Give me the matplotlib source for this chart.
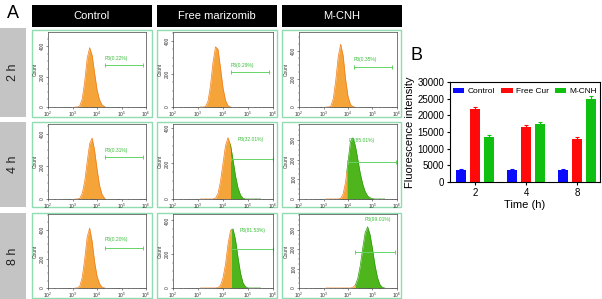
import matplotlib.pyplot as plt
import numpy as np
from matplotlib.patches import Rectangle
from matplotlib.ticker import FixedLocator, MultipleLocator, NullFormatter, LogLocator

plt.rcParams['font.family'] = ['Liberation Sans', 'DejaVu Sans']

W, H = 602, 299

# ---- panel B data ----
times = ['2', '4', '8']
group_names = ['Control', 'Free Cur', 'M-CNH']
control_mean = [3600, 3600, 3600]
control_err = [250, 250, 250]
freecur_mean = [21800, 16500, 13000]
freecur_err = [700, 600, 500]
mcnh_mean = [13500, 17500, 25000]
mcnh_err = [600, 600, 900]

# ---- panel A data (flow cytometry histograms, log10 intensity bins) ----
columns = ['Control', 'Free marizomib', 'M-CNH']
rows = ['2 h', '4 h', '8 h']
log_bins = [3.1, 3.2, 3.3, 3.4, 3.5, 3.6, 3.7, 3.8, 3.9, 4.0, 4.1, 4.2, 4.3,
            4.4, 4.5, 4.6, 4.7, 4.8, 4.9, 5.0, 5.1, 5.2, 5.3, 5.4, 5.5]
#                 3.1 3.2 3.3 3.4  3.5  3.6  3.7  3.8  3.9  4.0  4.1  4.2  4.3  4.4  4.5  4.6  4.7  4.8  4.9  5.0  5.1  5.2  5.3 5.4 5.5
ctrl_2h = [0, 0, 8, 55, 170, 320, 390, 340, 225, 115, 48, 15, 3, 0, 0, 0, 0, 0, 0, 0, 0, 0, 0, 0, 0]
fm_2h = [0, 0, 2, 35, 130, 270, 365, 350, 235, 115, 40, 8, 0, 0, 0, 0, 0, 0, 0, 0, 0, 0, 0, 0, 0]
mcnh_2h = [0, 0, 6, 60, 190, 360, 450, 370, 200, 75, 18, 3, 0, 0, 0, 0, 0, 0, 0, 0, 0, 0, 0, 0, 0]
ctrl_4h = [0, 0, 5, 35, 110, 230, 340, 375, 300, 185, 85, 30, 6, 0, 0, 0, 0, 0, 0, 0, 0, 0, 0, 0, 0]
fm_4h = [0, 0, 0, 0, 0, 0, 5, 30, 100, 200, 300, 345, 305, 220, 130, 62, 22, 5, 0, 0, 0, 0, 0, 0, 0]
mcnh_4h = [0, 0, 0, 0, 0, 0, 3, 25, 85, 190, 290, 310, 270, 200, 130, 76, 38, 16, 6, 2, 0, 0, 0, 0, 0]
ctrl_8h = [0, 0, 14, 75, 200, 350, 410, 320, 180, 82, 30, 7, 0, 0, 0, 0, 0, 0, 0, 0, 0, 0, 0, 0, 0]
fm_8h = [0, 0, 0, 0, 0, 0, 0, 3, 15, 60, 140, 260, 340, 350, 285, 180, 88, 30, 8, 0, 0, 0, 0, 0, 0]
mcnh_8h = [0, 0, 0, 0, 0, 0, 0, 0, 0, 0, 0, 3, 15, 50, 115, 205, 285, 315, 275, 200, 118, 55, 18, 4, 0]
hist_counts = [[ctrl_2h, fm_2h, mcnh_2h],
               [ctrl_4h, fm_4h, mcnh_4h],
               [ctrl_8h, fm_8h, mcnh_8h]]
gate_labels = [['P3(0.22%)', 'P3(0.29%)', 'P3(0.35%)'],
               ['P3(0.31%)', 'P3(32.01%)', 'P3(85.01%)'],
               ['P3(0.20%)', 'P3(81.53%)', 'P3(99.01%)']]

# ---- layout / styling per panel ----
panel_x = [(32, 152), (157, 277), (282, 401)]
axes_x = [(48, 146), (173, 273), (299, 397)]
panel_y = [(30, 117), (122, 207), (213, 298)]
axes_y = [(32, 107), (124, 199), (214, 288)]
ylims = [[493, 455, 538], [461, 422, 380], [507, 438, 381]]
# gate: start, end (log10), y ; label: x (log10), y
gates = [[(4.33, 5.88, 275), (4.3, 5.85, 210), (4.25, 5.8, 290)],
         [(4.33, 5.88, 258), (4.3, 6.0, 225), (3.95, 5.95, 185)],
         [(4.33, 5.86, 277), (4.33, 6.0, 228), (4.3, 5.9, 183)]]
label_pos = [[(4.33, 300), (4.3, 235), (4.25, 320)],
             [(4.33, 285), (4.6, 320), (4.02, 282)],
             [(4.33, 312), (4.65, 327), (4.66, 340)]]

ORANGE = '#f5a43a'
ORANGE_EDGE = '#f07c1a'
GREEN = '#4fb51c'
GREEN_EDGE = '#2e9c10'
GATE = '#66d466'
MINT = '#8edcb0'


def fr(x0, y0, x1, y1):
    return [x0 / W, 1 - y1 / H, (x1 - x0) / W, (y1 - y0) / H]


fig = plt.figure(figsize=(W / 100, H / 100), dpi=100)

fig.text(7 / W, 1 - 14 / H, 'A', fontsize=13, va='center', ha='left')
fig.text(411 / W, 1 - 55 / H, 'B', fontsize=13, va='center', ha='left')

# column headers
for j, name in enumerate(columns):
    x0, x1 = panel_x[j]
    if j == 2:
        x1 = 402
    fig.patches.append(Rectangle((x0 / W, 1 - 27 / H), (x1 - x0) / W, 22 / H,
                                 transform=fig.transFigure, facecolor='black',
                                 edgecolor='none', zorder=-2))
    fig.text((x0 + x1) / 2 / W, 1 - 16 / H, name, color='white', fontsize=8,
             ha='center', va='center')

# row labels
row_gray = [(28, 117), (122, 207), (213, 299)]
for i, name in enumerate(rows):
    y0, y1 = row_gray[i]
    fig.patches.append(Rectangle((0, 1 - y1 / H), 26 / W, (y1 - y0) / H,
                                 transform=fig.transFigure, facecolor='#c4c4c4',
                                 edgecolor='none', zorder=-2))
    fig.text(13 / W, 1 - (y0 + y1) / 2 / H, name, rotation=90, fontsize=9,
             color='#222222', ha='center', va='center')

lx = np.array(log_bins)
for i in range(3):
    for j in range(3):
        px0, px1 = panel_x[j]
        py0, py1 = panel_y[i]
        fig.patches.append(Rectangle((px0 / W, 1 - py1 / H), (px1 - px0) / W,
                                     (py1 - py0) / H, transform=fig.transFigure,
                                     facecolor='white', edgecolor=MINT, lw=1.0,
                                     zorder=-2))
        ax = fig.add_axes(fr(axes_x[j][0], axes_y[i][0], axes_x[j][1], axes_y[i][1]))
        cy = np.array(hist_counts[i][j], dtype=float)
        g0, g1, gy = gates[i][j]
        cut = np.interp(g0, lx, cy)
        left = lx < g0
        xo = np.r_[lx[left], g0]
        yo = np.r_[cy[left], cut]
        xg = np.r_[g0, lx[~left]]
        yg = np.r_[cut, cy[~left]]
        ax.fill_between(10 ** xo, yo, color=ORANGE, lw=0)
        ax.plot(10 ** xo, yo, color=ORANGE_EDGE, lw=0.5)
        ax.fill_between(10 ** xg, yg, color=GREEN, lw=0)
        if max(yg) > 5:
            ax.plot(10 ** xg, yg, color=GREEN_EDGE, lw=0.5)
        # gate
        ax.plot([10 ** g0, 10 ** g1], [gy, gy], color=GATE, lw=0.7)
        ax.plot([10 ** g0, 10 ** g1], [gy, gy], ls='none', marker='|',
                color=GATE, ms=3, mew=0.7)
        tx, ty = label_pos[i][j]
        ax.text(10 ** tx, ty, gate_labels[i][j], fontsize=3.6, color='#3cbf3c',
                ha='left', va='bottom')

        ax.set_xscale('log')
        ax.set_xlim(1e2, 1e6)
        ax.set_ylim(0, ylims[i][j])
        ax.xaxis.set_major_locator(FixedLocator([1e2, 1e3, 1e4, 1e5, 1e6]))
        ax.xaxis.set_minor_locator(LogLocator(base=10, subs=np.arange(2, 10), numticks=20))
        ax.xaxis.set_minor_formatter(NullFormatter())
        if j == 2 and i > 0:
            ax.yaxis.set_major_locator(FixedLocator([0, 100, 200, 300]))
            ax.yaxis.set_minor_locator(MultipleLocator(25))
        else:
            ax.yaxis.set_major_locator(FixedLocator([0, 200, 400]))
            ax.yaxis.set_minor_locator(MultipleLocator(50))
        ax.tick_params(which='major', labelsize=3.5, length=1.6, width=0.4,
                       pad=0.4, colors='#333333')
        ax.tick_params(which='minor', length=1.0, width=0.3, colors='#333333')
        ax.tick_params(axis='y', labelrotation=90)
        for lab in ax.get_yticklabels():
            lab.set_va('center')
        ax.set_ylabel('Count', fontsize=3.5, labelpad=1.5, color='#333333')
        for s in ax.spines.values():
            s.set_linewidth(0.5)
            s.set_color('#444444')

# ---- panel B ----
bx = fig.add_axes(fr(450, 82, 600, 182))
pos = np.arange(len(times))
bw = 0.2
off = 0.27
colors = ['#0a0aff', '#ff0a0a', '#10c010']
for k, (m, e) in enumerate([(control_mean, control_err),
                            (freecur_mean, freecur_err),
                            (mcnh_mean, mcnh_err)]):
    bx.bar(pos + (k - 1) * off, m, bw, yerr=e, color=colors[k],
           label=group_names[k],
           error_kw=dict(ecolor=colors[k], capsize=1.5, elinewidth=0.8,
                         capthick=0.8))
bx.set_xlim(-0.49, 2.45)
bx.set_ylim(0, 30000)
bx.set_yticks(np.arange(0, 30001, 5000))
bx.set_xticks(pos)
bx.set_xticklabels(times)
bx.tick_params(labelsize=7, length=2.5, width=0.8, pad=1.5)
for s in bx.spines.values():
    s.set_linewidth(0.8)
bx.set_ylabel('Fluorescence intensity', fontsize=8, labelpad=2)
bx.set_xlabel('Time (h)', fontsize=8, labelpad=2)
bx.legend(loc='upper center', bbox_to_anchor=(0.5, 1.0), ncol=3,
          frameon=False, fontsize=6, handlelength=1.4, handleheight=0.6,
          handletextpad=0.4, columnspacing=0.7, borderaxespad=0.3)

fig.savefig('out.png', dpi=100)
